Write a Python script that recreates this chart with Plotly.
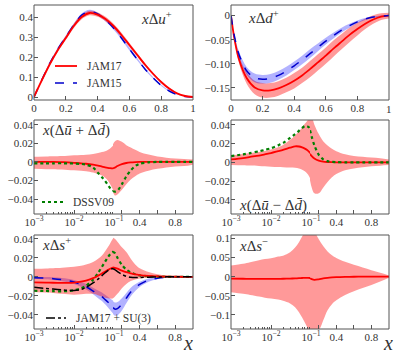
import plotly.graph_objects as go

# ---- top row: linear x from 0 to 1 ----
x_top = [0, 0.02, 0.05, 0.1, 0.15, 0.2, 0.25, 0.3, 0.35, 0.4, 0.45, 0.5, 0.55, 0.6, 0.65,
         0.7, 0.75, 0.8, 0.85, 0.9, 0.95, 1.0]

# x Delta u+
u_jam17 = [0, 0.035, 0.085, 0.165, 0.235, 0.295, 0.355, 0.400, 0.420, 0.412, 0.39, 0.355, 0.31,
           0.26, 0.21, 0.16, 0.115, 0.075, 0.042, 0.018, 0.005, 0]
u_jam17_hi = [0, 0.037, 0.09, 0.172, 0.244, 0.305, 0.366, 0.411, 0.431, 0.423, 0.401, 0.366, 0.321,
              0.27, 0.219, 0.168, 0.121, 0.08, 0.046, 0.02, 0.006, 0]
u_jam17_lo = [0, 0.033, 0.08, 0.158, 0.226, 0.285, 0.344, 0.389, 0.409, 0.401, 0.379, 0.344, 0.299,
              0.25, 0.201, 0.152, 0.109, 0.07, 0.038, 0.016, 0.004, 0]
u_jam15 = [0, 0.035, 0.087, 0.17, 0.24, 0.30, 0.36, 0.41, 0.428, 0.415, 0.385, 0.345, 0.295,
           0.24, 0.188, 0.138, 0.095, 0.058, 0.03, 0.012, 0.003, 0]
u_jam15_hi = [0, 0.037, 0.091, 0.176, 0.247, 0.308, 0.368, 0.418, 0.436, 0.423, 0.393, 0.353, 0.303,
              0.247, 0.194, 0.143, 0.099, 0.061, 0.032, 0.013, 0.004, 0]
u_jam15_lo = [0, 0.033, 0.083, 0.164, 0.233, 0.292, 0.352, 0.402, 0.42, 0.407, 0.377, 0.337, 0.287,
              0.233, 0.182, 0.133, 0.091, 0.055, 0.028, 0.011, 0.002, 0]

# x Delta d+
d_jam17 = [0, -0.045, -0.09, -0.13, -0.149, -0.155, -0.155, -0.151, -0.144, -0.135, -0.124, -0.111,
           -0.097, -0.083, -0.068, -0.054, -0.04, -0.028, -0.017, -0.008, -0.002, 0]
d_jam17_hi = [0, -0.041, -0.082, -0.118, -0.135, -0.14, -0.14, -0.136, -0.129, -0.119, -0.108, -0.094,
              -0.08, -0.066, -0.051, -0.038, -0.025, -0.015, -0.006, 0.001, 0.005, 0.006]
d_jam17_lo = [0, -0.049, -0.098, -0.142, -0.163, -0.17, -0.17, -0.166, -0.159, -0.151, -0.14, -0.128,
              -0.114, -0.1, -0.085, -0.07, -0.055, -0.041, -0.028, -0.017, -0.009, -0.006]
d_jam15 = [0, -0.04, -0.08, -0.115, -0.129, -0.132, -0.13, -0.124, -0.115, -0.104, -0.092, -0.079,
           -0.066, -0.053, -0.041, -0.03, -0.021, -0.013, -0.007, -0.003, -0.001, 0]
d_jam15_hi = [0, -0.037, -0.074, -0.107, -0.12, -0.123, -0.121, -0.115, -0.106, -0.095, -0.083, -0.07,
              -0.058, -0.046, -0.035, -0.025, -0.017, -0.01, -0.005, -0.002, 0, 0]
d_jam15_lo = [0, -0.043, -0.086, -0.123, -0.138, -0.141, -0.139, -0.133, -0.124, -0.113, -0.101, -0.088,
              -0.074, -0.06, -0.047, -0.035, -0.025, -0.016, -0.009, -0.004, -0.002, 0]

# ---- lower rows: log x up to 0.1, linear beyond ----
x_bot = [0.001, 0.002, 0.003, 0.005, 0.007, 0.01, 0.015, 0.02, 0.03, 0.04, 0.05, 0.06, 0.07, 0.08,
         0.09, 0.1, 0.12, 0.15, 0.2, 0.25, 0.3, 0.35, 0.4, 0.5, 0.6, 0.7, 0.8, 0.9, 1.0]

# x(Delta ubar + Delta dbar)
sea_jam17 = [0, 0, 0, -0.0003, -0.0005, -0.001, -0.0015, -0.002, -0.003, -0.004, -0.005, -0.0058,
             -0.0064, -0.0068, -0.007, -0.007, -0.0062, -0.0045, -0.0025, -0.0012, -0.0006, -0.0003,
             -0.0001, 0, 0, 0, 0, 0, 0]
sea_hi = [0.0055, 0.0058, 0.006, 0.0063, 0.0066, 0.007, 0.0073, 0.0076, 0.0085, 0.0095, 0.0105, 0.0115,
          0.0128, 0.0145, 0.0165, 0.019, 0.022, 0.0235, 0.0215, 0.018, 0.0155, 0.013, 0.0107, 0.0078,
          0.0057, 0.0045, 0.0036, 0.003, 0.0025]
sea_lo = [-0.0075, -0.0078, -0.008, -0.0083, -0.0086, -0.009, -0.0095, -0.010, -0.0115, -0.013, -0.0145,
          -0.017, -0.02, -0.024, -0.028, -0.032, -0.036, -0.035, -0.03, -0.024, -0.019, -0.0155, -0.0125,
          -0.0095, -0.0075, -0.006, -0.005, -0.0045, -0.003]
sea_dssv = [-0.0015, -0.0015, -0.0015, -0.0015, -0.0016, -0.0018, -0.0022, -0.003, -0.006, -0.012,
            -0.0165, -0.0205, -0.0245, -0.028, -0.030, -0.0315, -0.032, -0.031, -0.024, -0.0155, -0.009,
            -0.0045, -0.002, -0.0005, 0, 0, 0, 0, 0]

# x(Delta ubar - Delta dbar)
asym_jam17 = [0.003, 0.0045, 0.0057, 0.0072, 0.0085, 0.0098, 0.0118, 0.0132, 0.0155, 0.017, 0.0168,
              0.0158, 0.0145, 0.013, 0.011, 0.009, 0.0065, 0.004, 0.0017, 0.0007, 0.0003, 0.0001, 0,
              0, 0, 0, 0, 0, 0]
asym_hi = [0.0073, 0.0088, 0.0098, 0.011, 0.012, 0.0135, 0.016, 0.0185, 0.024, 0.0286, 0.033, 0.037,
           0.041, 0.044, 0.047, 0.049, 0.048, 0.04, 0.03, 0.0225, 0.018, 0.0145, 0.0118, 0.0085,
           0.0068, 0.0058, 0.005, 0.0042, 0.003]
asym_lo = [-0.0028, -0.0032, -0.0035, -0.004, -0.0043, -0.0047, -0.005, -0.0052, -0.0055, -0.0058,
           -0.0065, -0.0078, -0.0095, -0.012, -0.015, -0.019, -0.027, -0.033, -0.033, -0.027, -0.021,
           -0.016, -0.0125, -0.0085, -0.0065, -0.0052, -0.0043, -0.0036, -0.003]
asym_dssv = [0.0065, 0.0085, 0.0098, 0.0117, 0.0132, 0.015, 0.018, 0.0205, 0.026, 0.030, 0.0335, 0.0365,
             0.0385, 0.0385, 0.037, 0.034, 0.027, 0.018, 0.008, 0.0032, 0.0012, 0.0005, 0.0002, 0,
             0, 0, 0, 0, 0]

# x Delta s+
sp_jam17 = [-0.006, -0.0062, -0.0063, -0.0065, -0.0065, -0.0062, -0.0052, -0.004, -0.0015, 0.0012,
            0.0035, 0.0055, 0.007, 0.0085, 0.0094, 0.0098, 0.0095, 0.0085, 0.0065, 0.0048, 0.0035,
            0.0025, 0.0018, 0.0009, 0.0004, 0.0002, 0.0001, 0, 0]
sp_hi = [0.0084, 0.0088, 0.009, 0.0095, 0.01, 0.0105, 0.0115, 0.0128, 0.0155, 0.019, 0.0225, 0.027,
         0.031, 0.035, 0.039, 0.041, 0.04, 0.037, 0.031, 0.026, 0.019, 0.013, 0.009, 0.005, 0.0027,
         0.0013, 0.0006, 0.0002, 0]
sp_lo = [-0.016, -0.0165, -0.017, -0.018, -0.0185, -0.019, -0.0185, -0.018, -0.018, -0.0195, -0.021,
         -0.022, -0.0225, -0.023, -0.023, -0.0225, -0.021, -0.018, -0.012, -0.0075, -0.0045, -0.0028,
         -0.0018, -0.0008, -0.0003, -0.0001, 0, 0, 0]
sp_jam15 = [-0.001, -0.0015, -0.002, -0.003, -0.004, -0.0055, -0.008, -0.0105, -0.015, -0.0185, -0.021,
            -0.024, -0.0265, -0.029, -0.031, -0.0325, -0.034, -0.0335, -0.029, -0.0225, -0.016, -0.0115,
            -0.008, -0.0035, -0.0015, -0.0006, -0.0002, 0, 0]
sp_jam15_hi = [0, -0.0003, -0.0006, -0.0014, -0.0022, -0.0035, -0.0055, -0.0075, -0.0115, -0.0145,
               -0.0165, -0.019, -0.021, -0.023, -0.0245, -0.0257, -0.027, -0.0265, -0.0225, -0.017,
               -0.0115, -0.008, -0.0052, -0.0017, -0.0005, -0.0001, 0.0001, 0.0001, 0]
sp_jam15_lo = [-0.002, -0.0027, -0.0034, -0.0046, -0.0058, -0.0075, -0.0105, -0.0135, -0.0185, -0.0225,
               -0.0255, -0.029, -0.032, -0.035, -0.0375, -0.0393, -0.041, -0.0405, -0.0355, -0.028,
               -0.0205, -0.015, -0.0108, -0.0053, -0.0025, -0.0011, -0.0005, -0.0001, 0]
sp_dssv = [-0.0147, -0.015, -0.0152, -0.0153, -0.015, -0.0142, -0.0122, -0.0095, -0.003, 0.004, 0.0105,
           0.016, 0.0205, 0.0238, 0.0258, 0.0265, 0.025, 0.02, 0.0125, 0.0075, 0.0045, 0.0027, 0.0015,
           0.0005, 0.0002, 0, 0, 0, 0]
sp_su3 = [-0.011, -0.0123, -0.013, -0.0138, -0.0143, -0.0145, -0.0135, -0.0112, -0.0065, -0.0025,
          0.0012, 0.0042, 0.0065, 0.0078, 0.0085, 0.0085, 0.0075, 0.0055, 0.0025, 0.0005, -0.0005,
          -0.0008, -0.0007, -0.0004, -0.0002, -0.0001, 0, 0, 0]

# x Delta s-
sm_jam17 = [-0.0052, -0.0055, -0.0057, -0.006, -0.006, -0.006, -0.0058, -0.0055, -0.005, -0.0045,
            -0.004, -0.0035, -0.003, -0.003, -0.0035, -0.004, -0.0065, -0.0085, -0.007, -0.0045,
            -0.003, -0.002, -0.0012, -0.0005, -0.0002, 0, 0, 0, 0]
sm_hi = [0.029, 0.034, 0.038, 0.043, 0.046, 0.048, 0.0525, 0.055, 0.064, 0.076, 0.09, 0.105, 0.118,
         0.128, 0.136, 0.14, 0.135, 0.12, 0.098, 0.08, 0.066, 0.056, 0.049, 0.039, 0.031, 0.024, 0.017,
         0.01, 0.003]
sm_lo = [-0.041, -0.045, -0.048, -0.052, -0.055, -0.057, -0.06, -0.063, -0.07, -0.08, -0.093, -0.107,
         -0.12, -0.132, -0.142, -0.148, -0.147, -0.145, -0.14, -0.115, -0.088, -0.072, -0.062, -0.048,
         -0.038, -0.03, -0.022, -0.013, -0.003]

RED = "#ff0000"
RED_BAND = "rgba(255,0,0,0.4)"
BLUE = "#0000cc"
BLUE_BAND = "rgba(0,0,255,0.3)"
GREEN = "#007f00"
TXT = "#333"
FONT = "Liberation Serif"
W, H = 399, 359

fig = go.Figure()


def band(xs, lo, hi, color, xa, ya):
    fig.add_trace(go.Scatter(x=xs, y=lo, xaxis=xa, yaxis=ya, mode="lines", line=dict(width=0, shape="spline"),
                             hoverinfo="skip", showlegend=False))
    fig.add_trace(go.Scatter(x=xs, y=hi, xaxis=xa, yaxis=ya, mode="lines", line=dict(width=0, shape="spline"),
                             fill="tonexty", fillcolor=color, hoverinfo="skip", showlegend=False))


def curve(xs, ys, xa, ya, color, dash="solid", width=1.8):
    fig.add_trace(go.Scatter(x=xs, y=ys, xaxis=xa, yaxis=ya, mode="lines", showlegend=False,
                             line=dict(color=color, dash=dash, width=width, shape="spline", smoothing=0.8)))


# split indices for the log part (x <= 0.1) and the linear part (x >= 0.1)
lo_idx = [i for i, v in enumerate(x_bot) if v <= 0.1]
hi_idx = [i for i, v in enumerate(x_bot) if v >= 0.1]


def pick(vals, idx):
    return [vals[i] for i in idx]


# panel 1
band(x_top, u_jam15_lo, u_jam15_hi, BLUE_BAND, "x", "y")
band(x_top, u_jam17_lo, u_jam17_hi, RED_BAND, "x", "y")
curve(x_top, u_jam15, "x", "y", BLUE, "dash", 1.5)
curve(x_top, u_jam17, "x", "y", RED)

# panel 2
band(x_top, d_jam17_lo, d_jam17_hi, RED_BAND, "x2", "y2")
band(x_top, d_jam15_lo, d_jam15_hi, BLUE_BAND, "x2", "y2")
curve(x_top, d_jam17, "x2", "y2", RED)
curve(x_top, d_jam15, "x2", "y2", BLUE, "dash", 1.5)

# lower panels: (log axis, linear axis, y axis)
panels = {
    "sea": ("x3", "x4", "y3"),
    "asym": ("x5", "x6", "y4"),
    "sp": ("x7", "x8", "y5"),
    "sm": ("x9", "x10", "y6"),
}

for k, (xl, xr, ya) in panels.items():
    for xa, idx in [(xl, lo_idx), (xr, hi_idx)]:
        xs = pick(x_bot, idx)
        if k == "sea":
            band(xs, pick(sea_lo, idx), pick(sea_hi, idx), RED_BAND, xa, ya)
            curve(xs, pick(sea_jam17, idx), xa, ya, RED)
            curve(xs, pick(sea_dssv, idx), xa, ya, GREEN, "dot", 2.2)
        elif k == "asym":
            band(xs, pick(asym_lo, idx), pick(asym_hi, idx), RED_BAND, xa, ya)
            curve(xs, pick(asym_jam17, idx), xa, ya, RED)
            curve(xs, pick(asym_dssv, idx), xa, ya, GREEN, "dot", 2.2)
        elif k == "sp":
            band(xs, pick(sp_jam15_lo, idx), pick(sp_jam15_hi, idx), BLUE_BAND, xa, ya)
            band(xs, pick(sp_lo, idx), pick(sp_hi, idx), RED_BAND, xa, ya)
            curve(xs, pick(sp_jam15, idx), xa, ya, BLUE, "dash", 1.5)
            curve(xs, pick(sp_dssv, idx), xa, ya, GREEN, "dot", 2.2)
            curve(xs, pick(sp_jam17, idx), xa, ya, RED)
            curve(xs, pick(sp_su3, idx), xa, ya, "black", "dashdot", 1.5)
        else:
            band(xs, pick(sm_lo, idx), pick(sm_hi, idx), RED_BAND, xa, ya)
            curve(xs, pick(sm_jam17, idx), xa, ya, RED)

# layout (log and linear halves overlap by one pixel, like the original)
L0, L1 = 34 / W, 193 / W
LM_log, LM_lin = 114 / W, 113 / W
R0, R1 = 231 / W, 389 / W
RM_log, RM_lin = 311 / W, 310 / W
rows = [(1 - 100 / H, 1 - 5 / H), (1 - 214 / H, 1 - 120 / H), (1 - 329 / H, 1 - 235 / H)]

tickfont = dict(family=FONT, size=11, color=TXT)
base = dict(showgrid=False, zeroline=False, ticks="inside", ticklen=4, tickcolor="#555",
            tickfont=tickfont, showline=False, automargin=False, fixedrange=True,
            ticklabeloverflow="allow")

top_ticks = [0, 0.2, 0.4, 0.6, 0.8, 1]
top_text = ["0", "0.2", "0.4", "0.6", "0.8", "1"]
lin_top = dict(range=[0, 1], tickvals=top_ticks, ticktext=top_text)
log_ax = dict(type="log", range=[-3, -1], tickvals=[0.001, 0.01, 0.1],
              ticktext=["10<sup>−3</sup>", "10<sup>−2</sup>", "10<sup>−1</sup>"],
              minor=dict(ticks="inside", ticklen=2, tickcolor="#555",
                         tickvals=[0.002, 0.003, 0.004, 0.005, 0.006, 0.007, 0.008, 0.009,
                                   0.02, 0.03, 0.04, 0.05, 0.06, 0.07, 0.08, 0.09]))
lin_ax = dict(range=[0.1, 1], tickvals=[0.2, 0.4, 0.6, 0.8], ticktext=["", "0.4", "", "0.8"])
small_y = dict(tickvals=[-0.04, -0.02, 0, 0.02, 0.04], ticktext=["−0.04", "−0.02", "0", "0.02", "0.04"])

fig.update_layout(
    width=W, height=H, margin=dict(l=0, r=0, t=0, b=0),
    paper_bgcolor="white", plot_bgcolor="white", showlegend=False,
    font=dict(family=FONT, color=TXT),
    xaxis=dict(base, domain=[L0, L1], anchor="y", **lin_top),
    yaxis=dict(base, domain=rows[0], anchor="x", range=[-0.015, 0.46],
               tickvals=[0, 0.1, 0.2, 0.3, 0.4], ticktext=["0", "0.1", "0.2", "0.3", "0.4"]),
    # the last label of this axis sits at the window edge, it is written below as an annotation
    xaxis2=dict(base, domain=[R0, R1], anchor="y2", range=[0, 1], tickvals=top_ticks,
                ticktext=top_text[:-1] + [""]),
    yaxis2=dict(base, domain=rows[0], anchor="x2", range=[-0.175, 0.022],
                tickvals=[0, -0.05, -0.1, -0.15], ticktext=["0", "−0.05", "−0.10", "−0.15"]),
    xaxis3=dict(base, domain=[L0, LM_log], anchor="y3", **log_ax),
    xaxis4=dict(base, domain=[LM_lin, L1], anchor="y3", **lin_ax),
    yaxis3=dict(base, domain=rows[1], anchor="x3", range=[-0.056, 0.045], **small_y),
    xaxis5=dict(base, domain=[R0, RM_log], anchor="y4", **log_ax),
    xaxis6=dict(base, domain=[RM_lin, R1], anchor="y4", **lin_ax),
    yaxis4=dict(base, domain=rows[1], anchor="x5", range=[-0.055, 0.045], **small_y),
    xaxis7=dict(base, domain=[L0, LM_log], anchor="y5", **log_ax),
    xaxis8=dict(base, domain=[LM_lin, L1], anchor="y5", **lin_ax),
    yaxis5=dict(base, domain=rows[2], anchor="x7", range=[-0.055, 0.044], **small_y),
    xaxis9=dict(base, domain=[R0, RM_log], anchor="y6", **log_ax),
    xaxis10=dict(base, domain=[RM_lin, R1], anchor="y6", **lin_ax),
    yaxis6=dict(base, domain=rows[2], anchor="x9", range=[-0.137, 0.109],
                tickvals=[-0.1, -0.05, 0, 0.05, 0.1], ticktext=["−0.1", "−0.05", "0", "0.05", "0.1"]),
)

fig.add_annotation(text=top_text[-1], x=top_ticks[-1], xref="x2", y=1 - 100 / H, yref="paper",
                   xanchor="center", yanchor="top", yshift=-1, showarrow=False,
                   font=tickfont)

# panel frames
for (xa0, xa1) in [(L0, L1), (R0, R1)]:
    for (yb, yt) in rows:
        fig.add_shape(type="rect", xref="paper", yref="paper", x0=xa0, x1=xa1, y0=yb, y1=yt,
                      line=dict(color="#555", width=1), layer="above")

# inline legends: (label, colour, dash, width, sample x0, sample x1, y) in pixels
legend_items = [
    ("JAM17", RED, "solid", 1.8, 55, 77, 66),
    ("JAM15", BLUE, "dash", 1.5, 55, 77, 83),
    ("DSSV09", GREEN, "dot", 2.2, 42, 63, 202),
    ("JAM17 + SU(3)", "black", "dashdot", 1.5, 46, 66, 318),
]
for label, color, dash, width, sx0, sx1, sy in legend_items:
    fig.add_shape(type="line", xref="paper", yref="paper", x0=sx0 / W, x1=sx1 / W,
                  y0=1 - sy / H, y1=1 - sy / H, line=dict(color=color, dash=dash, width=width))
    fig.add_annotation(text=label, x=(sx1 + 8) / W, y=1 - sy / H, xref="paper", yref="paper",
                       xanchor="left", yanchor="middle", showarrow=False,
                       font=dict(family=FONT, size=11.5, color=TXT))

titles = [
    ("<i>x</i>Δ<i>u</i><sup>+</sup>", 174, 18, "right"),
    ("<i>x</i>Δ<i>d</i><sup>+</sup>", 246, 17, "left"),
    ("<i>x</i>(Δ<i>u\u0304</i> + Δ<i>d\u0304</i>)", 40, 130, "left"),
    ("<i>x</i>(Δ<i>u\u0304</i> − Δ<i>d\u0304</i>)", 237, 205, "left"),
    ("<i>x</i>Δ<i>s</i><sup>+</sup>", 40, 244, "left"),
    ("<i>x</i>Δ<i>s</i><sup>−</sup>", 237, 245, "left"),
]
for text, px_x, px_y, anchor in titles:
    fig.add_annotation(text=text, x=px_x / W, y=1 - px_y / H, xref="paper", yref="paper",
                       xanchor=anchor, yanchor="middle", showarrow=False,
                       font=dict(family=FONT, size=15, color=TXT))

for px_x in (188, 388):
    fig.add_annotation(text="<i>x</i>", x=px_x / W, y=1 - 343 / H, xref="paper", yref="paper",
                       xanchor="center", yanchor="middle", showarrow=False,
                       font=dict(family=FONT, size=20, color=TXT))

# the page's default body margin would shift the 399x359 figure; drop it and redraw
fig.write_html("out.html", config={"displayModeBar": False},
               post_script="document.body.style.margin='0px';"
                           "var gd=document.getElementById('{plot_id}');"
                           "Plotly.newPlot(gd, gd.data, gd.layout, {displayModeBar: false});")
